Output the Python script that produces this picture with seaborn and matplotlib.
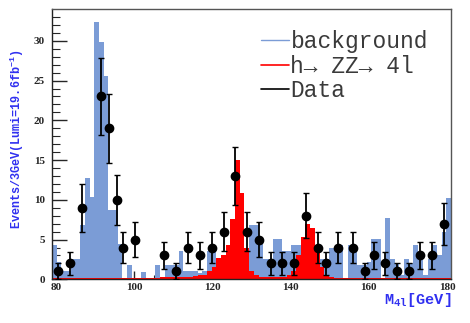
import numpy as np
import pandas as pd
import matplotlib
matplotlib.use("Agg")
import matplotlib.pyplot as plt
from matplotlib.lines import Line2D
import seaborn as sns

# Fine binning for the simulated histograms: 1.2 GeV bins from 79 to 181 GeV
bin_lo, bin_hi, bin_w = 79.0, 181.0, 1.2

background = [
    4.3, 2.2, 1.0, 1.0, 2.5, 2.6, 6.8, 12.8, 10.3, 32.4,
    29.8, 25.6, 8.7, 8.7, 4.5, 0.0, 1.8, 0.0, 0.0, 0.9,
    0.0, 0.0, 1.8, 0.0, 1.8, 1.8, 1.8, 3.5, 1.0, 1.0,
    1.0, 0.8, 1.0, 3.5, 3.5, 2.6, 2.0, 1.5, 1.0, 1.0,
    1.5, 2.0, 6.8, 6.8, 5.1, 2.6, 2.6, 5.1, 5.1, 3.5,
    3.5, 4.3, 4.3, 2.0, 2.0, 2.0, 2.0, 2.6, 2.6, 3.9,
    3.9, 4.3, 0.0, 4.3, 4.3, 1.8, 1.8, 2.2, 5.1, 5.1,
    0.0, 7.7, 2.6, 2.0, 0.5, 2.6, 2.0, 4.3, 2.6, 0.5,
    2.6, 4.3, 3.0, 6.0, 10.2,
]

signal = [
    0.2, 0.2, 0.2, 0.2, 0.2, 0.2, 0.2, 0.2, 0.2, 0.2,
    0.2, 0.2, 0.2, 0.2, 0.2, 0.2, 0.2, 0.2, 0.2, 0.2,
    0.2, 0.2, 0.2, 0.25, 0.25, 0.25, 0.25, 0.25, 0.25, 0.3,
    0.4, 0.5, 0.6, 1.0, 1.6, 2.7, 3.0, 4.3, 7.6, 15.0,
    10.8, 4.0, 1.0, 0.5, 0.35, 0.3, 0.3, 0.3, 0.3, 0.35,
    0.5, 1.0, 3.1, 5.3, 6.9, 6.4, 4.0, 1.6, 0.5, 0.3,
    0.2, 0.2, 0.2, 0.2, 0.2, 0.2, 0.2, 0.2, 0.2, 0.2,
    0.2, 0.2, 0.2, 0.2, 0.2, 0.2, 0.2, 0.2, 0.2, 0.2,
    0.2, 0.2, 0.2, 0.2, 0.2,
]

# Observed events in 3 GeV bins (bins with no events are not drawn)
data_mass = [80.5, 83.5, 86.6, 91.6, 93.5, 95.6, 97.2, 100.3, 107.6, 110.8,
             113.7, 116.8, 119.8, 122.9, 125.8, 128.8, 131.9, 134.9, 137.8, 140.8,
             143.9, 146.9, 149.0, 152.1, 156.0, 159.1, 161.2, 164.1, 167.1, 170.2,
             173.2, 176.2, 179.2]
data_events = [1, 2, 9, 23, 19, 10, 4, 5, 3, 1,
               4, 3, 4, 6, 13, 6, 5, 2, 2, 2,
               8, 4, 2, 4, 4, 1, 3, 2, 1, 1,
               3, 3, 7]

legend_labels = ["background", "h\u2192 ZZ\u2192 4l", "Data"]

blue_fill = "#7b9cd6"
red_fill = "#ff0000"
axis_blue = "#3030f0"

sns.set_style("ticks")
plt.rcParams["font.family"] = ["Liberation Mono", "DejaVu Sans Mono"]
plt.rcParams["mathtext.default"] = "regular"

n_bins = int(round((bin_hi - bin_lo) / bin_w))
edges = list(np.linspace(bin_lo, bin_hi, n_bins + 1))
centers = [0.5 * (a + b) for a, b in zip(edges[:-1], edges[1:])]
hist = pd.DataFrame({"mass": centers, "bkg": background, "sig": signal})

fig = plt.figure(figsize=(4.70, 3.23), dpi=100)
ax = fig.add_axes([52 / 470, 1 - 279.3 / 323, (451 - 52) / 470, (279.3 - 9) / 323])

sns.histplot(data=hist, x="mass", weights="bkg", bins=edges, element="step",
             fill=True, color=blue_fill, alpha=1.0, linewidth=0, ax=ax)
sns.histplot(data=hist, x="mass", weights="sig", bins=edges, element="step",
             fill=True, color=red_fill, alpha=1.0, linewidth=0, ax=ax)

errs = np.sqrt(np.array(data_events, dtype=float))
ax.errorbar(data_mass, data_events, yerr=errs, fmt="o", color="black",
            markersize=6, elinewidth=1.3, capsize=2, capthick=1.0, zorder=5)

ax.set_xlim(bin_lo, bin_hi)
ax.set_ylim(0, 34.0)

ax.set_xticks([80, 100, 120, 140, 160, 180])
ax.set_xticks(np.arange(80, 181, 5), minor=True)
ax.set_yticks([0, 5, 10, 15, 20, 25, 30])
ax.set_yticks(np.arange(0, 34, 1), minor=True)
ax.tick_params(axis="both", which="both", direction="in", top=False, right=False)
ax.tick_params(axis="y", which="major", length=11, width=1.0, pad=5)
ax.tick_params(axis="y", which="minor", length=6, width=0.8)
ax.tick_params(axis="x", which="major", length=6, width=1.0, pad=3)
ax.tick_params(axis="x", which="minor", length=3, width=0.8)
for lab in ax.get_xticklabels() + ax.get_yticklabels():
    lab.set_family("Liberation Serif")
    lab.set_fontweight("bold")
    lab.set_fontsize(8)

for side in ["top", "right"]:
    ax.spines[side].set_visible(True)
    ax.spines[side].set_color("#555555")
    ax.spines[side].set_linewidth(1.0)
for side in ["left", "bottom"]:
    ax.spines[side].set_color("#222222")
    ax.spines[side].set_linewidth(1.0)

ax.set_xlabel("M$_{4l}$[GeV]", color=axis_blue, fontweight="bold", fontsize=11)
ax.xaxis.set_label_coords(1.0, -0.045)
ax.xaxis.label.set_horizontalalignment("right")
ax.set_ylabel("Events/3GeV(Lumi=19.6fb$^{-1}$)", color=axis_blue,
              fontweight="bold", fontsize=8.5)
ax.yaxis.set_label_coords(-0.065, 0.52)

handles = [Line2D([], [], color=blue_fill, lw=1.0),
           Line2D([], [], color=red_fill, lw=1.2),
           Line2D([], [], color="black", lw=1.2)]
ax.legend(handles, legend_labels, loc="upper left", bbox_to_anchor=(0.5, 0.955),
          frameon=False, fontsize=16.5, handlelength=1.25, handletextpad=0.05,
          labelspacing=0.06, borderaxespad=0, labelcolor="#3a3a3a")

fig.savefig("out.png", dpi=100)
